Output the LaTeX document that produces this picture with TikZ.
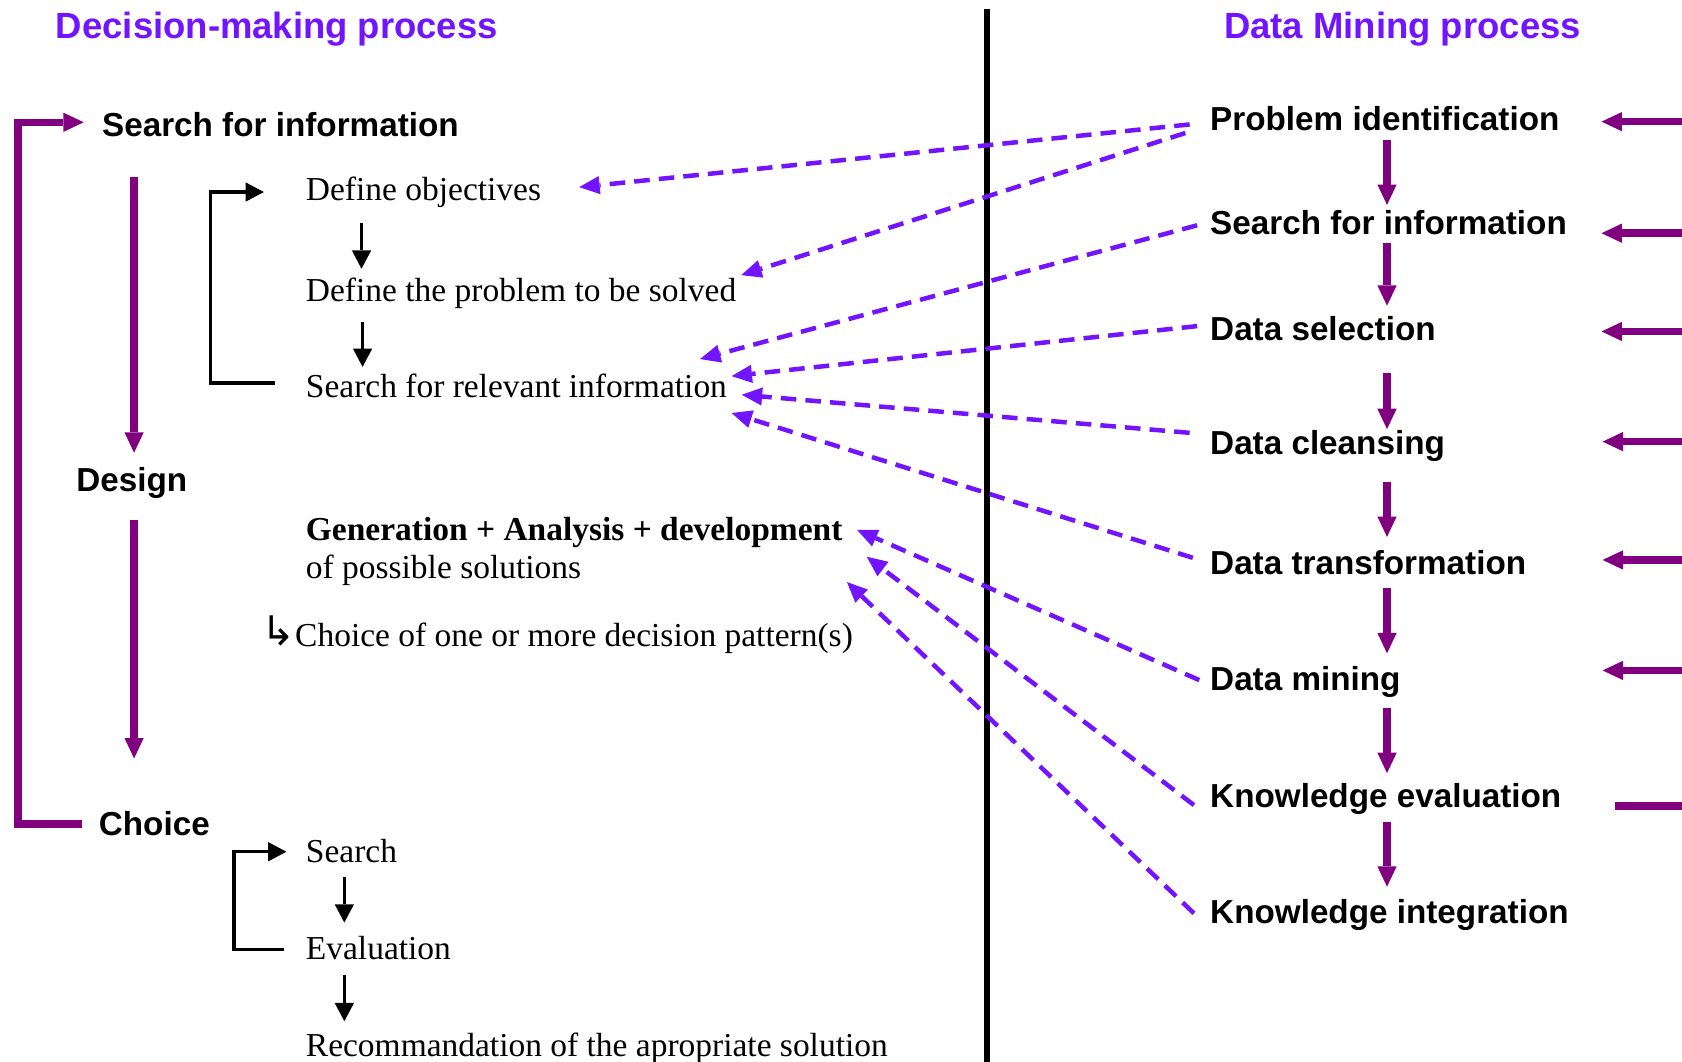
\documentclass[tikz,border=0pt]{standalone}
\usepackage{fontspec}
\setmainfont{Liberation Serif}
\newfontfamily\dmArial{Liberation Sans}
\newfontfamily\dmDejavu{DejaVu Sans}
\usetikzlibrary{arrows.meta,calc}
\definecolor{dmpurple}{RGB}{128,0,128}
\definecolor{dmviolet}{RGB}{115,20,255}
\newcommand\dmLab{\dmArial\bfseries\fontsize{31}{36}\selectfont}
\newcommand\dmTtl{\dmArial\bfseries\fontsize{34}{40}\selectfont}
\newcommand\dmSer{\fontsize{31.2}{36}\selectfont}
\begin{document}
\begin{tikzpicture}[x=1pt,y=-1pt,
  lab/.style={font=\dmLab, anchor=base west, inner sep=0pt},
  ttl/.style={font=\dmTtl, text=dmviolet, anchor=base west, inner sep=0pt},
  ser/.style={font=\dmSer, anchor=base west, inner sep=0pt},
  parr/.style={draw=dmpurple, line width=7pt, line join=miter, -{Triangle[length=19pt,width=18pt,line width=0pt]}},
  pline/.style={draw=dmpurple, line width=7pt},
  barr/.style={draw=black, line width=3.2pt, line join=miter, -{Triangle[length=17pt,width=18pt,line width=0pt]}},
  darr/.style={draw=dmviolet, line width=4.2pt, dash pattern=on 14.5pt off 8.5pt, -{Triangle[length=19pt,width=17pt,line width=0pt]}},
  divider/.style={draw=black, line width=6.2pt}]
\fill[white] (0,0) rectangle (1568,990);
\useasboundingbox (0,0) rectangle (1568,990);

% titles
\node[ttl] (tl) at (52,36) {Decision-making process};
\node[ttl] (tr) at (1141,36) {Data Mining process};

% left phases
\node[lab] (sfi) at (95,127) {Search for information};
\node[lab] (design) at (71,458) {Design};
\node[lab] (ch) at (92,779) {Choice};

% left details
\node[ser] (do) at (285,187) {Define objectives};
\node[ser] (dprob) at (285,281.5) {Define the problem to be solved};
\node[ser] (srel) at (285,371) {Search for relevant information};
\node[ser] (gen) at (285,504) {\bfseries Generation + Analysis + development};
\node[ser] (pos) at (285,539) {of possible solutions};
\node[anchor=base west, inner sep=0pt, font=\dmDejavu\fontsize{38}{40}\selectfont] (hook) at (244,602) {↳};
\node[ser] (cdp) at (275,603) {Choice of one or more decision pattern(s)};
\node[ser] (srch) at (285,804) {Search};
\node[ser] (eval) at (285,894) {Evaluation};
\node[ser] (rec) at (285,985) {Recommandation of the apropriate solution};

% right labels
\node[lab] (r1) at (1128,122) {Problem identification};
\node[lab] (r2) at (1128,219) {Search for information};
\node[lab] (r3) at (1128,317) {Data selection};
\node[lab] (r4) at (1128,424) {Data cleansing};
\node[lab] (r5) at (1128,536) {Data transformation};
\node[lab] (r6) at (1128,644) {Data mining};
\node[lab] (r7) at (1128,753) {Knowledge evaluation};
\node[lab] (r8) at (1128,861) {Knowledge integration};

% divider
\coordinate (dvt) at (920,8);
\coordinate (dvb) at (920,1000);
\draw[divider] (dvt) -- (dvb);

% purple loop on the left
\draw[parr] ($(ch.base west)+(-16,-11)$) -- ++(-59,0) |- ($(sfi.base west)+(-17,-13)$);
\draw[parr] ($(sfi.base west)+(30,38)$) -- ($(design.base west)+(54,-36)$);
\draw[parr] ($(design.base west)+(54,27)$) -- ($(ch.base west)+(33,-72)$);

% black brackets and arrows
\draw[barr] ($(srel.base west)+(-29,-14)$) -- ++(-60,0) |- ($(do.base west)+(-39,-8)$);
\draw[barr] ($(do.base west)+(52,21)$) -- ($(dprob.base west)+(52,-31)$);
\draw[barr] ($(dprob.base west)+(53,19)$) -- ($(srel.base west)+(53,-29)$);
\draw[barr] ($(eval.base west)+(-20,-9)$) -- ++(-47,0) |- ($(srch.base west)+(-18,-10)$);
\draw[barr] ($(srch.base west)+(36,14)$) -- ($(eval.base west)+(36,-34)$);
\draw[barr] ($(eval.base west)+(36,15)$) -- ($(rec.base west)+(36,-33)$);

% right chain
\draw[parr] ($(r1.base west)+(165,8.5)$) -- ($(r2.base west)+(165,-28)$);
\draw[parr] ($(r2.base west)+(165,7.7)$) -- ($(r3.base west)+(165,-32)$);
\draw[parr] ($(r3.base west)+(165,30.8)$) -- ($(r4.base west)+(165,-24)$);
\draw[parr] ($(r4.base west)+(165,25)$) -- ($(r5.base west)+(165,-35.5)$);
\draw[parr] ($(r5.base west)+(165,12)$) -- ($(r6.base west)+(165,-35)$);
\draw[parr] ($(r6.base west)+(165,16)$) -- ($(r7.base west)+(165,-32.3)$);
\draw[parr] ($(r7.base west)+(165,13)$) -- ($(r8.base west)+(165,-34.4)$);

% arrows coming from the right edge
\coordinate (e1) at (1585,113.4); \coordinate (t1) at (1493,113.4);
\coordinate (e2) at (1585,217.4); \coordinate (t2) at (1493,217.4);
\coordinate (e3) at (1585,309);   \coordinate (t3) at (1493,309);
\coordinate (e4) at (1585,411.7); \coordinate (t4) at (1494,411.7);
\coordinate (e5) at (1585,522);   \coordinate (t5) at (1494,522);
\coordinate (e6) at (1585,625);   \coordinate (t6) at (1494,625);
\coordinate (e7) at (1585,751.4); \coordinate (t7) at (1505.6,751.4);
\draw[parr] (e1) -- (t1);
\draw[parr] (e2) -- (t2);
\draw[parr] (e3) -- (t3);
\draw[parr] (e4) -- (t4);
\draw[parr] (e5) -- (t5);
\draw[parr] (e6) -- (t6);
\draw[pline] (e7) -- (t7);

% dashed links
\draw[darr] ($(r1.base west)+(-19,-6)$) -- ($(do.base west)+(255,-12.5)$);
\draw[darr] ($(r1.base west)+(-23,2)$) -- ($(dprob.base west)+(406,-25)$);
\draw[darr] ($(r2.base west)+(-12,-9)$) -- ($(srel.base west)+(367.6,-36.3)$);
\draw[darr] ($(r3.base west)+(-12,-13)$) -- ($(srel.base west)+(397,-20.4)$);
\draw[darr] ($(r4.base west)+(-19,-20.5)$) -- ($(srel.base west)+(406.5,-3)$);
\draw[darr] ($(r5.base west)+(-16,-16)$) -- ($(srel.base west)+(397,14)$);
\draw[darr] ($(r6.base west)+(-10,-10)$) -- ($(gen.base west)+(514,-10)$);
\draw[darr] ($(r7.base west)+(-15,-2.5)$) -- ($(gen.base west)+(523,15)$);
\draw[darr] ($(r8.base west)+(-15,-9.6)$) -- ($(gen.base west)+(504.5,38.6)$);
\end{tikzpicture}
\end{document}
